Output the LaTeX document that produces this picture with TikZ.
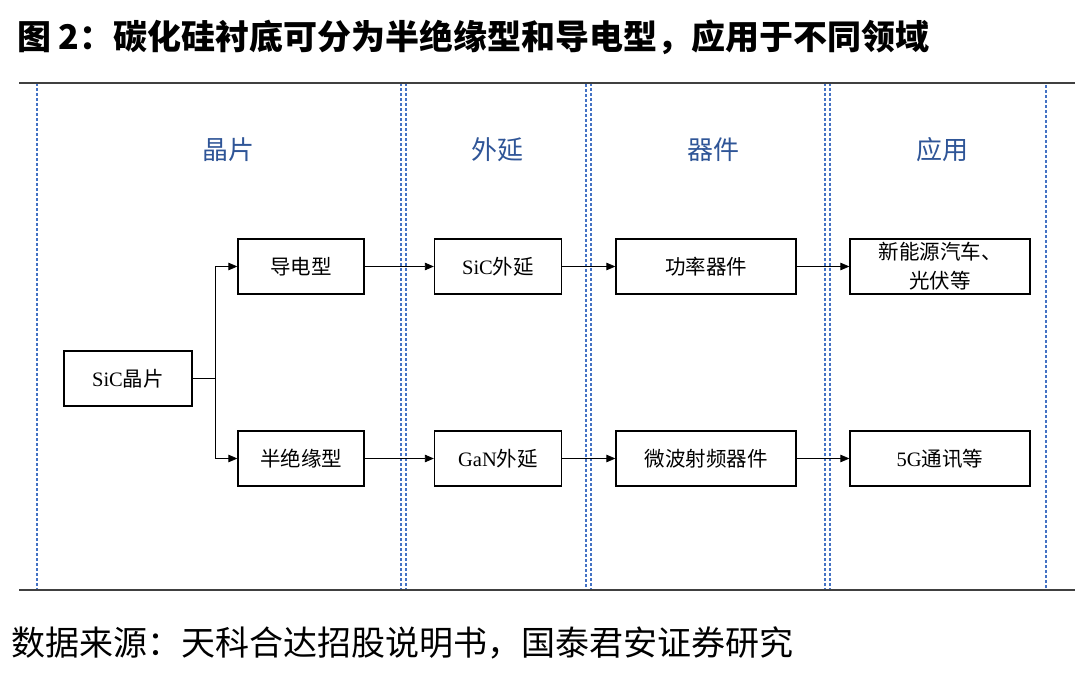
\documentclass[tikz,border=0pt]{standalone}
\usepackage{fontspec}
\setmainfont{Liberation Serif}
\newfontfamily\cjk{Noto Sans CJK SC}
\usepackage{tikz}
\usetikzlibrary{arrows.meta}
\definecolor{hdrblue}{RGB}{47,85,151}
\definecolor{dashblue}{RGB}{68,114,196}
\definecolor{rulegray}{RGB}{64,64,64}

\begin{document}
\begin{tikzpicture}[x=1pt,y=-1pt,>={Triangle[length=9pt,width=7.5pt]},
  box/.style={rectangle,draw=black,line width=1.3pt,fill=white,minimum height=55pt,inner sep=0pt,align=center,font=\fontsize{20.5}{29}\selectfont},
  column/.style={draw=dashblue,line width=1.1pt,dash pattern=on 3pt off 2pt},
  header/.style={text=hdrblue,font=\cjk\fontsize{26}{30}\selectfont},
  link/.style={draw=black,line width=0.8pt}]
\useasboundingbox (0,0) rectangle (1080,679);
% title and source
\node[anchor=west,inner sep=0pt,font=\cjk\bfseries\fontsize{34}{38}\selectfont] (title) at (17,37) {图 2：碳化硅衬底可分为半绝缘型和导电型，应用于不同领域};
\node[anchor=west,inner sep=0pt,font=\cjk\fontsize{34}{38}\selectfont] (source) at (11,643) {数据来源：天科合达招股说明书，国泰君安证券研究};
% columns
\draw[column] (37,83) rectangle (401,590);
\draw[column] (406,83) rectangle (586,590);
\draw[column] (591,83) rectangle (825,590);
\draw[column] (830,83) rectangle (1046,590);
\draw[rulegray,line width=2.2pt] (19,83) -- (1075,83);
\draw[rulegray,line width=2.2pt] (19,590) -- (1075,590);
\node[header] (hwafer) at (228,150) {晶片};
\node[header] (hepi) at (497,150) {外延};
\node[header] (hdevice) at (713,150) {器件};
\node[header] (happ) at (942,150) {应用};
% boxes
\node[box,minimum width=128pt] (wafer) at (128,378.5) {SiC{\cjk 晶片}};
\node[box,minimum width=126pt] (cond) at (301,266.5) {\cjk 导电型};
\node[box,minimum width=126pt] (semi) at (301,458.5) {\cjk 半绝缘型};
\node[box,minimum width=127pt] (sicepi) at (498,266.5) {SiC{\cjk 外延}};
\node[box,minimum width=127pt] (ganepi) at (498,458.5) {GaN{\cjk 外延}};
\node[box,minimum width=180pt] (power) at (706,266.5) {\cjk 功率器件};
\node[box,minimum width=180pt] (rf) at (706,458.5) {\cjk 微波射频器件};
\node[box,minimum width=180pt] (ev) at (940,266.5) {\cjk 新能源汽车、\\\cjk 光伏等};
\node[box,minimum width=180pt] (comm) at (940,458.5) {5G{\cjk 通讯等}};
% connectors
\coordinate (split) at (215.5,378.5);
\draw[link] (wafer) -- (split);
\draw[link,->] (split) |- (cond);
\draw[link,->] (split) |- (semi);
\draw[link,->] (cond) -- (sicepi);
\draw[link,->] (semi) -- (ganepi);
\draw[link,->] (sicepi) -- (power);
\draw[link,->] (ganepi) -- (rf);
\draw[link,->] (power) -- (ev);
\draw[link,->] (rf) -- (comm);
\end{tikzpicture}
\end{document}
